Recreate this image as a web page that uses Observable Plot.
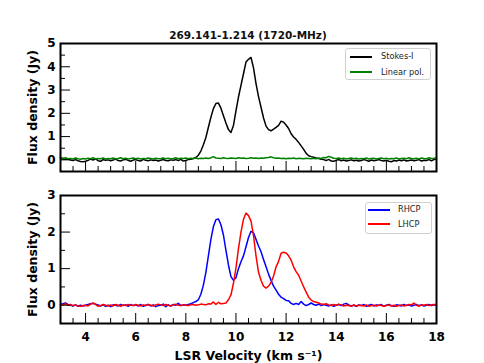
<!DOCTYPE html>
<html><head><meta charset="utf-8">
<script src="https://cdn.jsdelivr.net/npm/d3@7"></script>
<script src="https://cdn.jsdelivr.net/npm/@observablehq/plot@0.6"></script>
<style>
body{margin:0;background:#fff;}
#wrap{position:relative;width:484px;height:363px;font-family:"DejaVu Sans",sans-serif;overflow:hidden;}
#wrap svg{position:absolute;left:0;}
.title{position:absolute;left:0;width:496px;text-align:center;font-weight:bold;font-size:10.5px;line-height:12px;top:29px;color:#111;}
.legend{position:absolute;border:1px solid #d0d0d0;border-radius:3px;background:rgba(255,255,255,0.85);box-sizing:border-box;}
.legend .ln{position:absolute;height:2px;width:22px;}
.legend .tx{position:absolute;font-size:8.2px;line-height:10px;color:#222;white-space:nowrap;}
svg [aria-label="y-axis label"] text, svg [aria-label="x-axis label"] text{font-size:12.5px;}
</style></head><body><div id="wrap"></div>
<script>
// channel velocities (km/s)
const velocity = [3.0,3.1,3.2,3.3,3.4,3.5,3.6,3.7,3.8,3.9,4.0,4.1,4.2,4.3,4.4,4.5,4.6,4.7,4.8,4.9,5.0,5.1,5.2,5.3,5.4,5.5,5.6,5.7,5.8,5.9,6.0,6.1,6.2,6.3,6.4,6.5,6.6,6.7,6.8,6.9,7.0,7.1,7.2,7.3,7.4,7.5,7.6,7.7,7.8,7.9,8.0,8.1,8.2,8.3,8.4,8.5,8.6,8.7,8.8,8.9,9.0,9.1,9.2,9.3,9.4,9.5,9.6,9.7,9.8,9.9,10.0,10.1,10.2,10.3,10.4,10.5,10.6,10.7,10.8,10.9,11.0,11.1,11.2,11.3,11.4,11.5,11.6,11.7,11.8,11.9,12.0,12.1,12.2,12.3,12.4,12.5,12.6,12.7,12.8,12.9,13.0,13.1,13.2,13.3,13.4,13.5,13.6,13.7,13.8,13.9,14.0,14.1,14.2,14.3,14.4,14.5,14.6,14.7,14.8,14.9,15.0,15.1,15.2,15.3,15.4,15.5,15.6,15.7,15.8,15.9,16.0,16.1,16.2,16.3,16.4,16.5,16.6,16.7,16.8,16.9,17.0,17.1,17.2,17.3,17.4,17.5,17.6,17.7,17.8,17.9,18.0];

const stokesI = [
0.08,0.04,0.03,0.05,-0.01,-0.03,0.01,-0.04,-0.07,-0.08,
-0.06,-0.02,0.03,-0.01,0.05,-0.04,-0.06,0.01,-0.02,0.00,
-0.04,-0.01,0.03,-0.03,-0.05,0.00,0.02,-0.02,-0.06,-0.01,
0.01,-0.03,-0.05,0.02,-0.02,-0.04,0.00,-0.03,-0.01,-0.05,
-0.02,0.01,-0.03,-0.04,0.00,-0.02,0.01,-0.03,0.02,-0.05,
-0.03,0.02,0.03,0.06,0.10,0.20,0.38,0.65,0.96,1.40,
1.83,2.20,2.42,2.44,2.22,1.90,1.58,1.30,1.18,1.48,
2.10,2.70,3.20,3.70,4.20,4.32,4.40,3.95,3.28,2.72,
2.26,1.80,1.45,1.30,1.25,1.32,1.40,1.48,1.66,1.62,
1.50,1.35,1.12,0.98,0.88,0.75,0.60,0.45,0.28,0.18,
0.14,0.11,0.08,0.06,0.03,0.01,-0.03,0.02,-0.05,-0.06,
-0.02,0.01,-0.04,-0.01,-0.05,-0.03,0.00,-0.04,-0.02,-0.05,
-0.03,0.01,-0.02,-0.06,-0.01,-0.04,-0.02,0.01,-0.03,-0.05,
-0.02,-0.06,-0.08,-0.03,-0.05,-0.01,-0.04,0.00,-0.05,-0.03,
-0.01,-0.04,-0.02,0.01,-0.05,-0.02,-0.03,0.01,-0.04,0.02,
0.03];

const linearPol = [
0.10,0.07,0.09,0.05,0.06,0.04,0.08,0.05,0.03,0.06,
0.04,0.07,0.05,0.09,0.04,0.06,0.05,0.08,0.04,0.06,
0.05,0.08,0.04,0.06,0.09,0.05,0.07,0.04,0.06,0.08,
0.05,0.07,0.04,0.06,0.05,0.08,0.06,0.04,0.07,0.05,
0.06,0.08,0.05,0.07,0.04,0.06,0.09,0.05,0.07,0.06,
0.08,0.05,0.07,0.06,0.08,0.05,0.07,0.06,0.08,0.06,
0.09,0.14,0.08,0.07,0.06,0.09,0.07,0.06,0.08,0.07,
0.06,0.09,0.07,0.08,0.06,0.07,0.09,0.07,0.08,0.06,
0.08,0.07,0.09,0.10,0.13,0.09,0.07,0.08,0.06,0.07,
0.05,0.07,0.06,0.08,0.05,0.07,0.06,0.05,0.07,0.06,
0.05,0.07,0.05,0.08,0.06,0.10,0.09,0.15,0.11,0.07,
0.06,0.08,0.05,0.07,0.04,0.06,0.08,0.05,0.07,0.04,
0.06,0.05,0.08,0.04,0.06,0.07,0.04,0.06,0.08,0.05,
0.07,0.04,0.06,0.05,0.08,0.04,0.06,0.07,0.05,0.09,
0.06,0.05,0.07,0.04,0.08,0.06,0.05,0.09,0.06,0.07,
0.09];

const rhcp = [
0.02,0.04,0.06,0.02,0.00,-0.02,0.01,-0.03,0.00,-0.02,
0.00,0.02,0.04,0.05,0.03,0.01,-0.02,0.01,-0.03,0.00,
-0.04,0.01,0.00,-0.02,0.02,-0.01,0.01,-0.03,0.02,-0.01,
0.01,-0.02,0.02,-0.03,0.00,0.02,-0.02,0.01,-0.04,-0.01,
0.00,0.03,-0.04,0.01,-0.02,0.02,0.00,0.05,-0.01,0.01,
0.00,0.02,0.04,0.07,0.10,0.15,0.30,0.55,0.90,1.35,
1.80,2.15,2.34,2.36,2.20,1.92,1.50,1.10,0.78,0.68,
0.75,1.00,1.19,1.35,1.60,1.85,2.02,1.98,1.80,1.62,
1.46,1.25,1.05,0.85,0.68,0.52,0.41,0.30,0.22,0.18,
0.13,0.12,0.05,0.02,0.05,0.02,0.10,0.03,-0.01,0.02,
0.06,0.02,0.00,0.03,-0.01,0.02,0.00,-0.02,0.01,-0.03,
0.00,0.02,-0.01,0.03,0.05,0.01,-0.02,0.00,-0.03,0.01,
-0.01,0.02,-0.03,0.00,0.02,-0.02,0.01,-0.01,0.02,-0.03,
0.00,0.02,-0.01,-0.03,0.01,0.00,-0.02,0.02,-0.01,0.01,
-0.02,0.00,0.02,-0.01,0.01,-0.02,0.00,0.02,-0.01,0.01,
0.00];

const lhcp = [
0.03,0.01,0.04,0.00,0.02,-0.01,0.01,-0.02,-0.03,-0.01,
0.00,-0.02,0.03,0.06,0.02,-0.03,-0.01,0.02,0.00,-0.02,
0.01,-0.02,0.02,0.00,-0.03,0.01,-0.01,0.02,0.00,-0.01,
0.02,0.00,-0.02,0.01,-0.01,0.02,0.00,-0.02,0.01,0.03,
0.01,-0.01,0.02,0.00,-0.02,0.01,0.03,0.00,-0.01,0.01,
0.00,-0.01,0.01,0.02,0.00,0.01,0.03,0.02,0.01,0.04,
0.03,0.09,0.02,0.08,0.04,0.05,0.06,0.15,0.28,0.60,
1.02,1.55,2.00,2.35,2.52,2.45,2.30,1.90,1.35,0.90,
0.68,0.52,0.47,0.52,0.62,0.80,1.05,1.20,1.42,1.45,
1.43,1.35,1.23,1.05,0.92,0.82,0.66,0.50,0.36,0.22,
0.14,0.10,0.08,0.06,0.03,0.02,0.04,0.01,-0.01,0.02,
0.00,0.03,0.01,-0.02,0.00,-0.01,-0.03,0.01,-0.02,0.00,
-0.01,-0.02,0.01,-0.03,-0.01,0.00,-0.02,0.01,-0.01,-0.03,
-0.01,0.01,-0.02,0.00,-0.03,-0.01,0.01,-0.02,0.00,0.02,
0.01,0.06,0.00,-0.03,0.01,0.00,0.02,-0.01,0.01,0.02,
0.01];

const titleText = "269.141-1.214 (1720-MHz)";
const yLabel = "Flux density (Jy)";
const xLabel = "LSR Velocity (km s\u207B\u00B9)";
const topNames = ["Stokes-I", "Linear pol."];
const topColors = ["black", "green"];
const botNames = ["RHCP", "LHCP"];
const botColors = ["blue", "red"];
const xMajor = [4, 6, 8, 10, 12, 14, 16, 18];
const xMinor = [3.5, 4.5, 5, 5.5, 6.5, 7, 7.5, 8.5, 9, 9.5, 10.5, 11, 11.5, 12.5, 13, 13.5, 14.5, 15, 15.5, 16.5, 17, 17.5];
const topYMajor = [0, 1, 2, 3, 4, 5];
const topYMinor = [0.5, 1.5, 2.5, 3.5, 4.5];
const botYMajor = [0, 1, 2, 3];
const botYMinor = [0.5, 1.5, 2.5];

function table(names, arrays) {
  const rows = [];
  names.forEach((name, k) => velocity.forEach((v, i) => rows.push({v, flux: arrays[k][i], series: name})));
  return rows;
}

const wrap = document.getElementById("wrap");

function panel({names, colors, arrays, yDomain, yMajor, yMinor, height, marginTop, marginBottom, bottomLabels, top}) {
  const marks = [
    Plot.line(table(names, arrays), {x: "v", y: "flux", z: "series", stroke: "series", strokeWidth: 1.5}),
    Plot.axisY(yMajor, {tickSize: -10, tickPadding: 15, label: yLabel, labelAnchor: "center", labelArrow: "none", labelOffset: 32}),
    Plot.axisY(yMinor, {tickSize: -5, tickFormat: () => "", label: null}),
    Plot.axisX(xMinor, {tickSize: -5, tickFormat: () => "", label: null}),
    bottomLabels
      ? Plot.axisX(xMajor, {tickSize: -10, tickPadding: 19, label: xLabel, labelAnchor: "center", labelArrow: "none", labelOffset: 36})
      : Plot.axisX(xMajor, {tickSize: -10, tickFormat: () => "", label: null}),
    Plot.frame({strokeWidth: 2, stroke: "black"})
  ];
  const svg = Plot.plot({
    width: 484, height,
    marginLeft: 60, marginRight: 48, marginTop, marginBottom,
    x: {domain: [3, 18]},
    y: {domain: yDomain},
    color: {domain: names, range: colors},
    style: {fontFamily: "DejaVu Sans", fontWeight: "bold", fontSize: "12px", color: "black", background: "transparent", overflow: "visible"},
    marks
  });
  svg.style.top = top + "px";
  wrap.appendChild(svg);
}

panel({names: topNames, colors: topColors, arrays: [stokesI, linearPol], yDomain: [-0.5, 5], yMajor: topYMajor, yMinor: topYMinor, height: 183, marginTop: 43, marginBottom: 12, bottomLabels: false, top: 0});
panel({names: botNames, colors: botColors, arrays: [rhcp, lhcp], yDomain: [-0.5, 3], yMajor: botYMajor, yMinor: botYMinor, height: 180, marginTop: 12, marginBottom: 40, bottomLabels: true, top: 183});

const title = document.createElement("div");
title.className = "title";
title.textContent = titleText;
wrap.appendChild(title);

function legend(names, colors, box, lineLeft, textLeft, rowYs) {
  const d = document.createElement("div");
  d.className = "legend";
  Object.assign(d.style, {left: box[0] + "px", top: box[1] + "px", width: box[2] + "px", height: box[3] + "px"});
  names.forEach((n, i) => {
    const ln = document.createElement("div");
    ln.className = "ln";
    Object.assign(ln.style, {left: lineLeft + "px", top: (rowYs[i] - 1) + "px", background: colors[i]});
    const tx = document.createElement("div");
    tx.className = "tx";
    tx.textContent = n;
    Object.assign(tx.style, {left: textLeft + "px", top: (rowYs[i] - 5.5) + "px"});
    d.appendChild(ln); d.appendChild(tx);
  });
  wrap.appendChild(d);
}
legend(topNames, topColors, [345, 48, 86, 32], 4, 35, [7.5, 23]);
legend(botNames, botColors, [365, 202, 67, 32], 2, 32, [6.5, 21]);
</script>
</body></html>
